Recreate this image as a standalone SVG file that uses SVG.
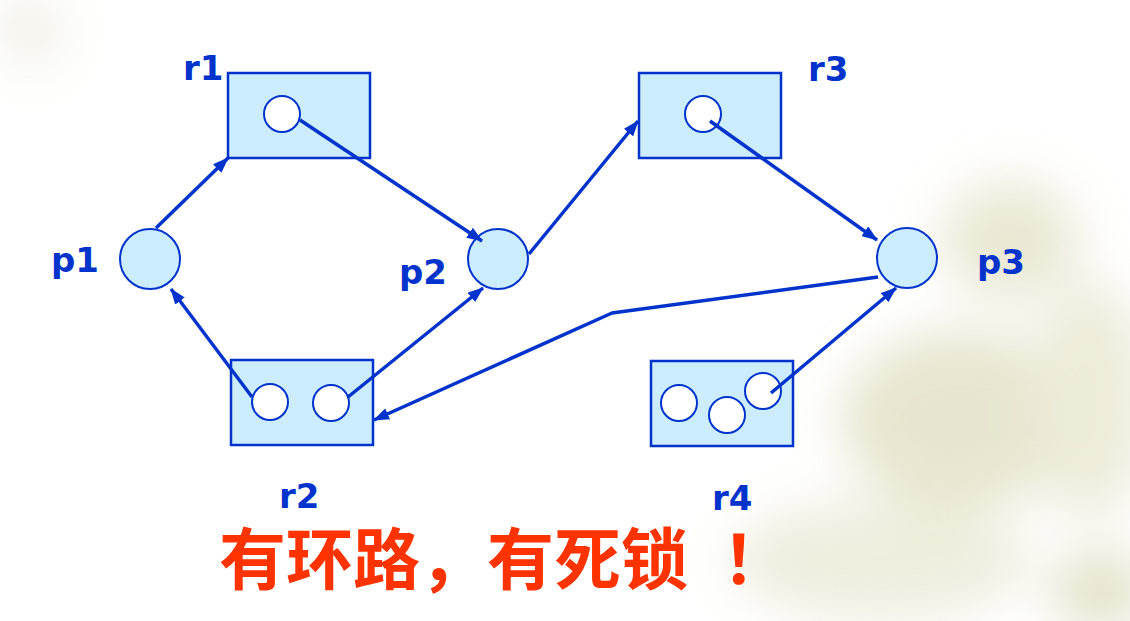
<svg xmlns="http://www.w3.org/2000/svg" width="1130" height="621" viewBox="0 0 1130 621">
<defs>
<style>
.res{fill:#CCECFF;stroke:#0033CC;stroke-width:2.5}
.proc{fill:#CCECFF;stroke:#0033CC;stroke-width:2}
.tok{fill:#FFFFFF;stroke:#0033CC;stroke-width:2}
.edge{fill:none;stroke:#0033CC;stroke-width:3.5;stroke-linejoin:round}
.lbl{font-family:"DejaVu Sans","Liberation Sans",sans-serif;font-weight:bold;font-size:34px;fill:#0033CC}
.cap{font-family:"Noto Sans CJK SC","Noto Sans CJK JP",sans-serif;font-weight:bold;font-size:67px;fill:#FF3300}
</style>
<marker id="ah" viewBox="0 0 16 12" refX="15" refY="6" markerWidth="16" markerHeight="12" markerUnits="userSpaceOnUse" orient="auto">
<path d="M0,0 L16,6 L0,12 Z" fill="#0033CC"/>
</marker>
<filter id="blur" x="-50%" y="-50%" width="200%" height="200%"><feGaussianBlur stdDeviation="25"/></filter>
</defs>
<rect width="1130" height="621" fill="#FFFFFF"/>
<g id="background" filter="url(#blur)" opacity="0.7">
<ellipse cx="1010" cy="240" rx="70" ry="60" fill="#E2DFC2"/>
<ellipse cx="960" cy="420" rx="120" ry="90" fill="#DEDBBB"/>
<ellipse cx="1090" cy="400" rx="60" ry="120" fill="#E6E3CA"/>
<ellipse cx="880" cy="560" rx="150" ry="60" fill="#E8E6D0"/>
<ellipse cx="30" cy="30" rx="35" ry="40" fill="#EEEDE0"/>
<ellipse cx="1100" cy="590" rx="50" ry="40" fill="#D9D6B4"/>
</g>
<g id="r1">
<rect class="res" x="228" y="73" width="142" height="85"/>
<circle class="tok" cx="282" cy="114" r="18"/>
<text class="lbl" x="183" y="80">r1</text>
</g>
<g id="r3">
<rect class="res" x="639" y="73" width="142" height="85"/>
<circle class="tok" cx="703" cy="114" r="18"/>
<text class="lbl" x="808" y="81">r3</text>
</g>
<g id="r2">
<rect class="res" x="231" y="360" width="142" height="85"/>
<circle class="tok" cx="270" cy="402" r="18"/>
<circle class="tok" cx="331" cy="403" r="18"/>
<text class="lbl" x="279" y="508">r2</text>
</g>
<g id="r4">
<rect class="res" x="651" y="361" width="142" height="85"/>
<circle class="tok" cx="679" cy="403" r="18"/>
<circle class="tok" cx="727" cy="415" r="18"/>
<circle class="tok" cx="763" cy="391" r="18"/>
<text class="lbl" x="712" y="510">r4</text>
</g>
<g id="p1">
<circle class="proc" cx="150" cy="259" r="30"/>
<text class="lbl" x="51" y="272">p1</text>
</g>
<g id="p2">
<circle class="proc" cx="498" cy="259" r="30"/>
<text class="lbl" x="399" y="284">p2</text>
</g>
<g id="p3">
<circle class="proc" cx="907" cy="258" r="30"/>
<text class="lbl" x="977" y="274">p3</text>
</g>
<g id="connectors">
<line class="edge" x1="156" y1="228" x2="228" y2="158" marker-end="url(#ah)"/>
<line class="edge" x1="300" y1="120" x2="482" y2="241" marker-end="url(#ah)"/>
<line class="edge" x1="529" y1="254" x2="638" y2="121" marker-end="url(#ah)"/>
<line class="edge" x1="710" y1="121" x2="877" y2="240" marker-end="url(#ah)"/>
<line class="edge" x1="252" y1="397" x2="171" y2="289" marker-end="url(#ah)"/>
<line class="edge" x1="348" y1="397" x2="483" y2="288" marker-end="url(#ah)"/>
<polyline class="edge" points="878,277 612,313 374,420" marker-end="url(#ah)"/>
<line class="edge" x1="771" y1="393" x2="896" y2="288" marker-end="url(#ah)"/>
</g>
<text class="cap" x="219" y="584">有环路，有死锁<tspan dx="34">！</tspan></text>
</svg>
